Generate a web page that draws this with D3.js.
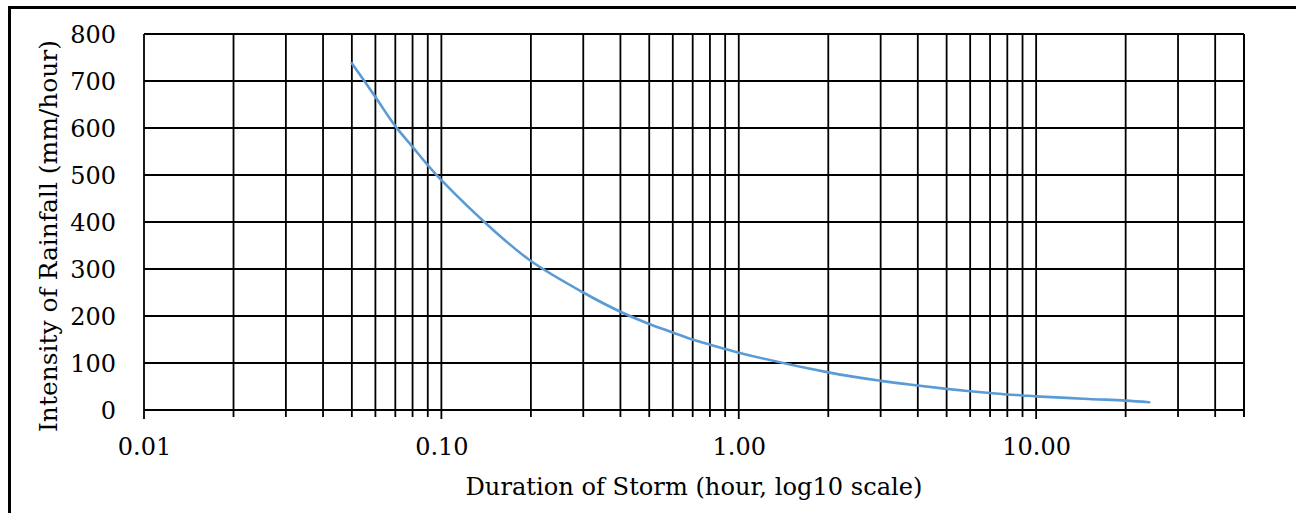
<!DOCTYPE html>
<html>
<head>
<meta charset="utf-8">
<script src="https://cdn.jsdelivr.net/npm/d3@7"></script>
<style>
html,body{margin:0;padding:0;background:#fff;}
svg{display:block;}
</style>
</head>
<body>
<svg id="chart" width="1296" height="513"></svg>
<script>
// Data
const durations = [0.05, 0.06, 0.07, 0.08, 0.09, 0.1, 0.15, 0.2, 0.3, 0.4, 0.5, 0.6, 0.7, 0.8, 0.9, 1, 2, 3, 4, 5, 6, 7, 8, 9, 10, 15, 20, 24];
const intensity = [738, 666, 604, 560, 521, 489, 382, 317, 250, 209, 183, 165, 150, 139, 130, 122, 80, 62, 52, 45, 40, 36, 33, 31, 29, 23.5, 20, 16.5];
const xMajorTicks = [0.01, 0.1, 1, 10];
const xTickLabels = ["0.01", "0.10", "1.00", "10.00"];
const yTicks = [0, 100, 200, 300, 400, 500, 600, 700, 800];
const xTitle = "Duration of Storm (hour, log10 scale)";
const yTitle = "Intensity of Rainfall (mm/hour)";

const svg = d3.select("#chart");
const pL = 144, pR = 1244, pT = 34, pB = 410;

const x = d3.scaleLog().domain([0.01, 50]).range([pL, pR]);
const y = d3.scaleLinear().domain([0, 800]).range([pB, pT]);

// outer frame
svg.append("rect").attr("x", 9.5).attr("y", 7.5).attr("width", 1400).attr("height", 600)
  .attr("fill", "none").attr("stroke", "#000").attr("stroke-width", 3);

// minor/major vertical grid positions
const xGrid = [];
[0.01, 0.1, 1, 10].forEach(d => { for (let k = 1; k <= 9; k++) { const v = d * k; if (v <= 50.0001) xGrid.push(v); } });

const g = svg.append("g");
g.selectAll("line.vg").data(xGrid).join("line").attr("class", "vg")
  .attr("x1", d => x(d)).attr("x2", d => x(d))
  .attr("y1", pT).attr("y2", d => pB + (xMajorTicks.includes(d) ? 9 : 7))
  .attr("stroke", "#000").attr("stroke-width", 1.8);
g.append("line").attr("x1", pR).attr("x2", pR).attr("y1", pT).attr("y2", pB + 7)
  .attr("stroke", "#000").attr("stroke-width", 1.8);
g.selectAll("line.hg").data(yTicks).join("line").attr("class", "hg")
  .attr("x1", pL).attr("x2", pR).attr("y1", d => y(d)).attr("y2", d => y(d))
  .attr("stroke", "#000").attr("stroke-width", 1.8);

// axes labels via d3 axes (lines hidden)
const xAxis = d3.axisBottom(x).tickValues(xMajorTicks)
  .tickFormat((d, i) => xTickLabels[i]).tickSize(0).tickPadding(0);
const xa = svg.append("g").attr("transform", `translate(0,${pB})`).call(xAxis);
xa.select(".domain").remove();
xa.selectAll("text").attr("font-family", "DejaVu Serif").attr("font-size", 24)
  .attr("fill", "#000").attr("dy", null).attr("y", 45);

const yAxis = d3.axisLeft(y).tickValues(yTicks).tickSize(0).tickPadding(0);
const ya = svg.append("g").attr("transform", `translate(116,0)`).call(yAxis);
ya.select(".domain").remove();
ya.selectAll("text").attr("font-family", "DejaVu Serif").attr("font-size", 24)
  .attr("fill", "#000").attr("x", 0).attr("dy", "0.36em");

// curve
const line = d3.line().x((d, i) => x(durations[i])).y((d, i) => y(intensity[i]))
  .curve(d3.curveCatmullRom.alpha(0.5));
svg.append("path").datum(intensity).attr("d", line)
  .attr("fill", "none").attr("stroke", "#5B9BD5").attr("stroke-width", 2.6)
  .attr("stroke-linecap", "round");

// titles
svg.append("text").attr("x", (pL + pR) / 2).attr("y", 495)
  .attr("text-anchor", "middle").attr("font-family", "DejaVu Serif").attr("font-size", 25)
  .attr("textLength", 457).attr("lengthAdjust", "spacingAndGlyphs")
  .text(xTitle);
svg.append("text").attr("transform", "translate(57,236) rotate(-90)")
  .attr("text-anchor", "middle").attr("font-family", "DejaVu Serif").attr("font-size", 25)
  .attr("textLength", 392).attr("lengthAdjust", "spacingAndGlyphs")
  .text(yTitle);
</script>
</body>
</html>
